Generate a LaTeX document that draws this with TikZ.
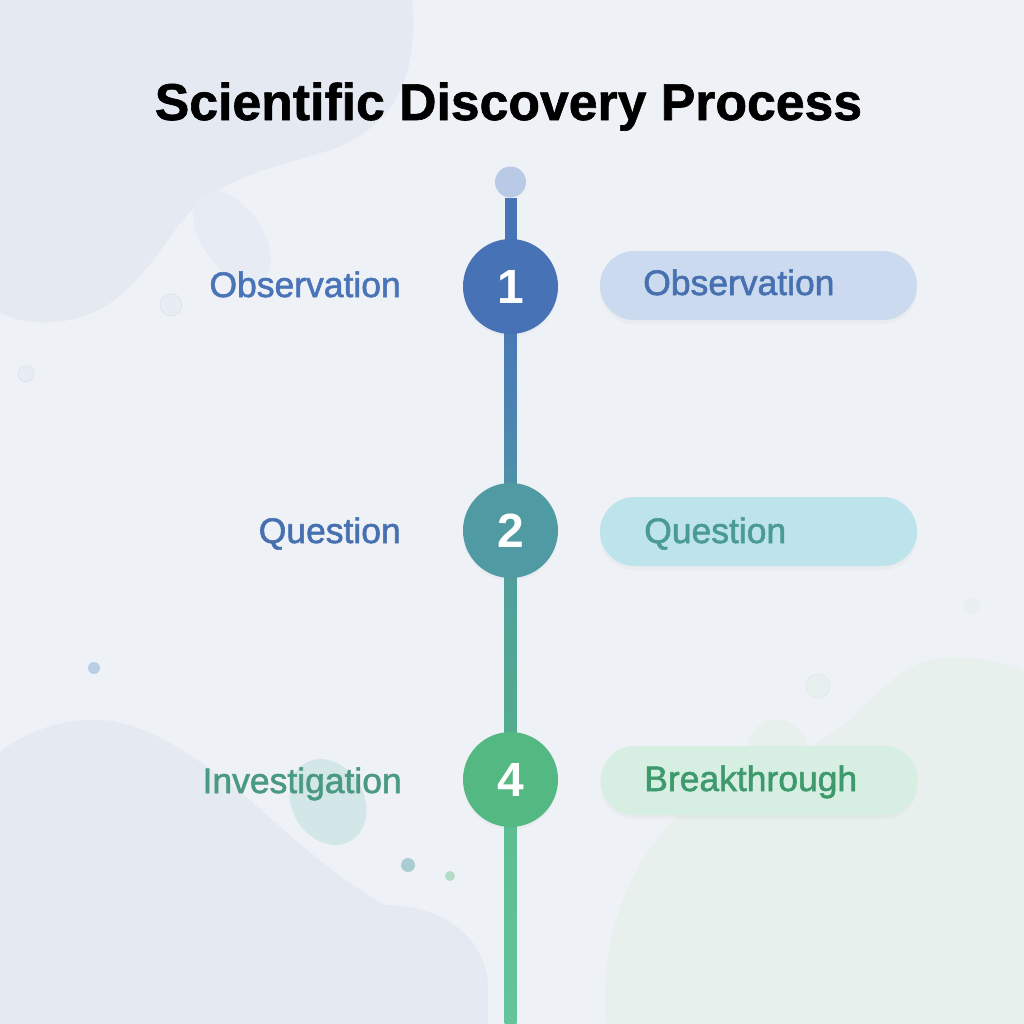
\documentclass[tikz,border=0pt]{standalone}
\usepackage{fontspec}
\setmainfont{Liberation Sans}
\newfontfamily\labfont{Liberation Sans}[FakeBold=1.6]
\newfontfamily\titfont{Liberation Sans}[FakeBold=1.2]
\usetikzlibrary{shadows}
\definecolor{bg}{RGB}{238,241,245}
\definecolor{blobA}{RGB}{228,233,242}
\definecolor{blobG}{RGB}{231,240,237}
\definecolor{topdot}{RGB}{184,202,230}
\definecolor{c1}{RGB}{71,114,181}
\definecolor{c2}{RGB}{80,155,163}
\definecolor{c4}{RGB}{83,184,130}
\definecolor{p1}{RGB}{203,218,239}
\definecolor{p2}{RGB}{189,228,234}
\definecolor{p4}{RGB}{214,239,226}
\definecolor{t1}{RGB}{70,112,176}
\definecolor{t2}{RGB}{74,154,152}
\definecolor{t4}{RGB}{62,154,108}
\definecolor{l1}{RGB}{74,116,184}
\definecolor{l2}{RGB}{70,112,176}
\definecolor{l4}{RGB}{74,154,130}
\definecolor{railA}{RGB}{72,116,182}
\definecolor{railB}{RGB}{76,130,178}
\definecolor{railC}{RGB}{80,155,160}
\definecolor{railD}{RGB}{84,176,138}
\definecolor{railE}{RGB}{90,188,142}
\definecolor{railF}{RGB}{100,196,156}
\definecolor{sp3}{RGB}{185,205,228}
\definecolor{sp4}{RGB}{170,205,210}
\definecolor{sp5}{RGB}{180,220,200}
\definecolor{tealblob}{RGB}{211,230,232}
\definecolor{ring}{RGB}{214,224,238}
\tikzset{
  lab/.style={font=\labfont\fontsize{26.6pt}{30pt}\selectfont, inner sep=0pt, anchor=base east},
  pilltext/.style={font=\labfont\fontsize{26.6pt}{30pt}\selectfont, inner sep=0pt, anchor=base west},
  pill/.style={rectangle, rounded corners=25.8pt, minimum width=237.75pt, minimum height=51.75pt, inner sep=0pt,
    drop shadow={opacity=0.05, shadow xshift=0pt, shadow yshift=-3pt}},
  stepcirc/.style={circle, minimum size=71.25pt, inner sep=0pt, text=white,
    font=\bfseries\fontsize{36pt}{40pt}\selectfont,
    drop shadow={opacity=0.05, shadow xshift=0pt, shadow yshift=-2pt}},
  spot/.style={circle, inner sep=0pt},
}
\begin{document}
\begin{tikzpicture}[x=0.75pt,y=-0.75pt]
\useasboundingbox (0,0) rectangle (1024,1024);
\fill[bg] (0,0) rectangle (1024,1024);
% background blobs
\fill[blobA] (0,0) -- (412,0) .. controls (418,70) and (400,125) .. (330,150)
  .. controls (270,170) and (215,175) .. (175,230)
  .. controls (140,280) and (110,320) .. (50,322)
  .. controls (25,323) and (10,318) .. (0,312) -- cycle;
\fill[blobA!70!bg, rotate around={-55:(232,237)}] (232,237) ellipse (52 and 30);
\fill[blobA] (0,1024) -- (0,752) .. controls (30,728) and (70,718) .. (100,720)
  .. controls (150,722) and (200,760) .. (250,800)
  .. controls (300,845) and (340,880) .. (385,905)
  .. controls (440,905) and (485,935) .. (488,985) -- (488,1024) -- cycle;
\fill[blobG] (1024,1024) -- (606,1024) .. controls (600,950) and (620,870) .. (680,815)
  .. controls (740,770) and (800,760) .. (850,720)
  .. controls (880,690) and (910,657) .. (950,657)
  .. controls (985,657) and (1010,665) .. (1024,672) -- cycle;
\fill[blobG] (777,750) circle (30);
\fill[tealblob, rotate around={-60:(328,802)}] (328,802) ellipse (45 and 36);
% small spots
\node[spot, minimum size=16.5pt, fill=blobA!60!bg, draw=ring] (s1) at (171,305) {};
\node[spot, minimum size=12pt, fill=blobA!60!bg, draw=ring] (s2) at (26,374) {};
\node[spot, minimum size=9pt, fill=sp3] (s3) at (94,668) {};
\node[spot, minimum size=10.5pt, fill=sp4] (s4) at (408,865) {};
\node[spot, minimum size=7.5pt, fill=sp5] (s5) at (450,876) {};
\node[spot, minimum size=18pt, fill=blobG!80!bg, draw=c4!12!bg] (s6) at (818,686) {};
\node[spot, minimum size=12pt, fill=blobG!80!bg] (s7) at (972,606) {};
% title
\node[font=\titfont\bfseries\fontsize{38.8pt}{44pt}\selectfont, inner sep=0pt, anchor=base] (title) at (508.5,120) {Scientific Discovery Process};
% timeline rail
\node[spot, minimum size=23.25pt, fill=topdot] (top) at (510.5,182) {};
\coordinate (bot) at (510.5,1024);
\coordinate (c1p) at (510.5,286.5);
\coordinate (c2p) at (510.5,530.5);
\coordinate (c4p) at (510.5,779.5);
\fill[railA] ([xshift=-4.5pt]top.south) rectangle ([xshift=4.5pt]c1p);
\shade[top color=railA, bottom color=railC, middle color=railB] ([xshift=-4.5pt]c1p) rectangle ([xshift=4.5pt]c2p);
\shade[top color=railC, bottom color=railD] ([xshift=-4.5pt]c2p) rectangle ([xshift=4.5pt]c4p);
\shade[top color=railE, bottom color=railF] ([xshift=-4.5pt]c4p) rectangle ([xshift=4.5pt]bot);
% steps
\node[stepcirc, fill=c1] (n1) at (c1p) {1};
\node[stepcirc, fill=c2] (n2) at (c2p) {2};
\node[stepcirc, fill=c4] (n4) at (c4p) {4};
% pills
\node[pill, fill=p1] (pill1) at (758.5,285.5) {};
\node[pill, fill=p2] (pill2) at (758.5,531.5) {};
\node[pill, fill=p4] (pill4) at (759,780.5) {};
\node[pilltext, text=t1] (pt1) at (643,295) {Observation};
\node[pilltext, text=t2] (pt2) at (644,543) {Question};
\node[pilltext, text=t4] (pt4) at (644,791) {Breakthrough};
% left labels
\node[lab, text=l1] (lt1) at (401,297) {Observation};
\node[lab, text=l2] (lt2) at (401,543) {Question};
\node[lab, text=l4] (lt4) at (402,793) {Investigation};
\end{tikzpicture}
\end{document}
